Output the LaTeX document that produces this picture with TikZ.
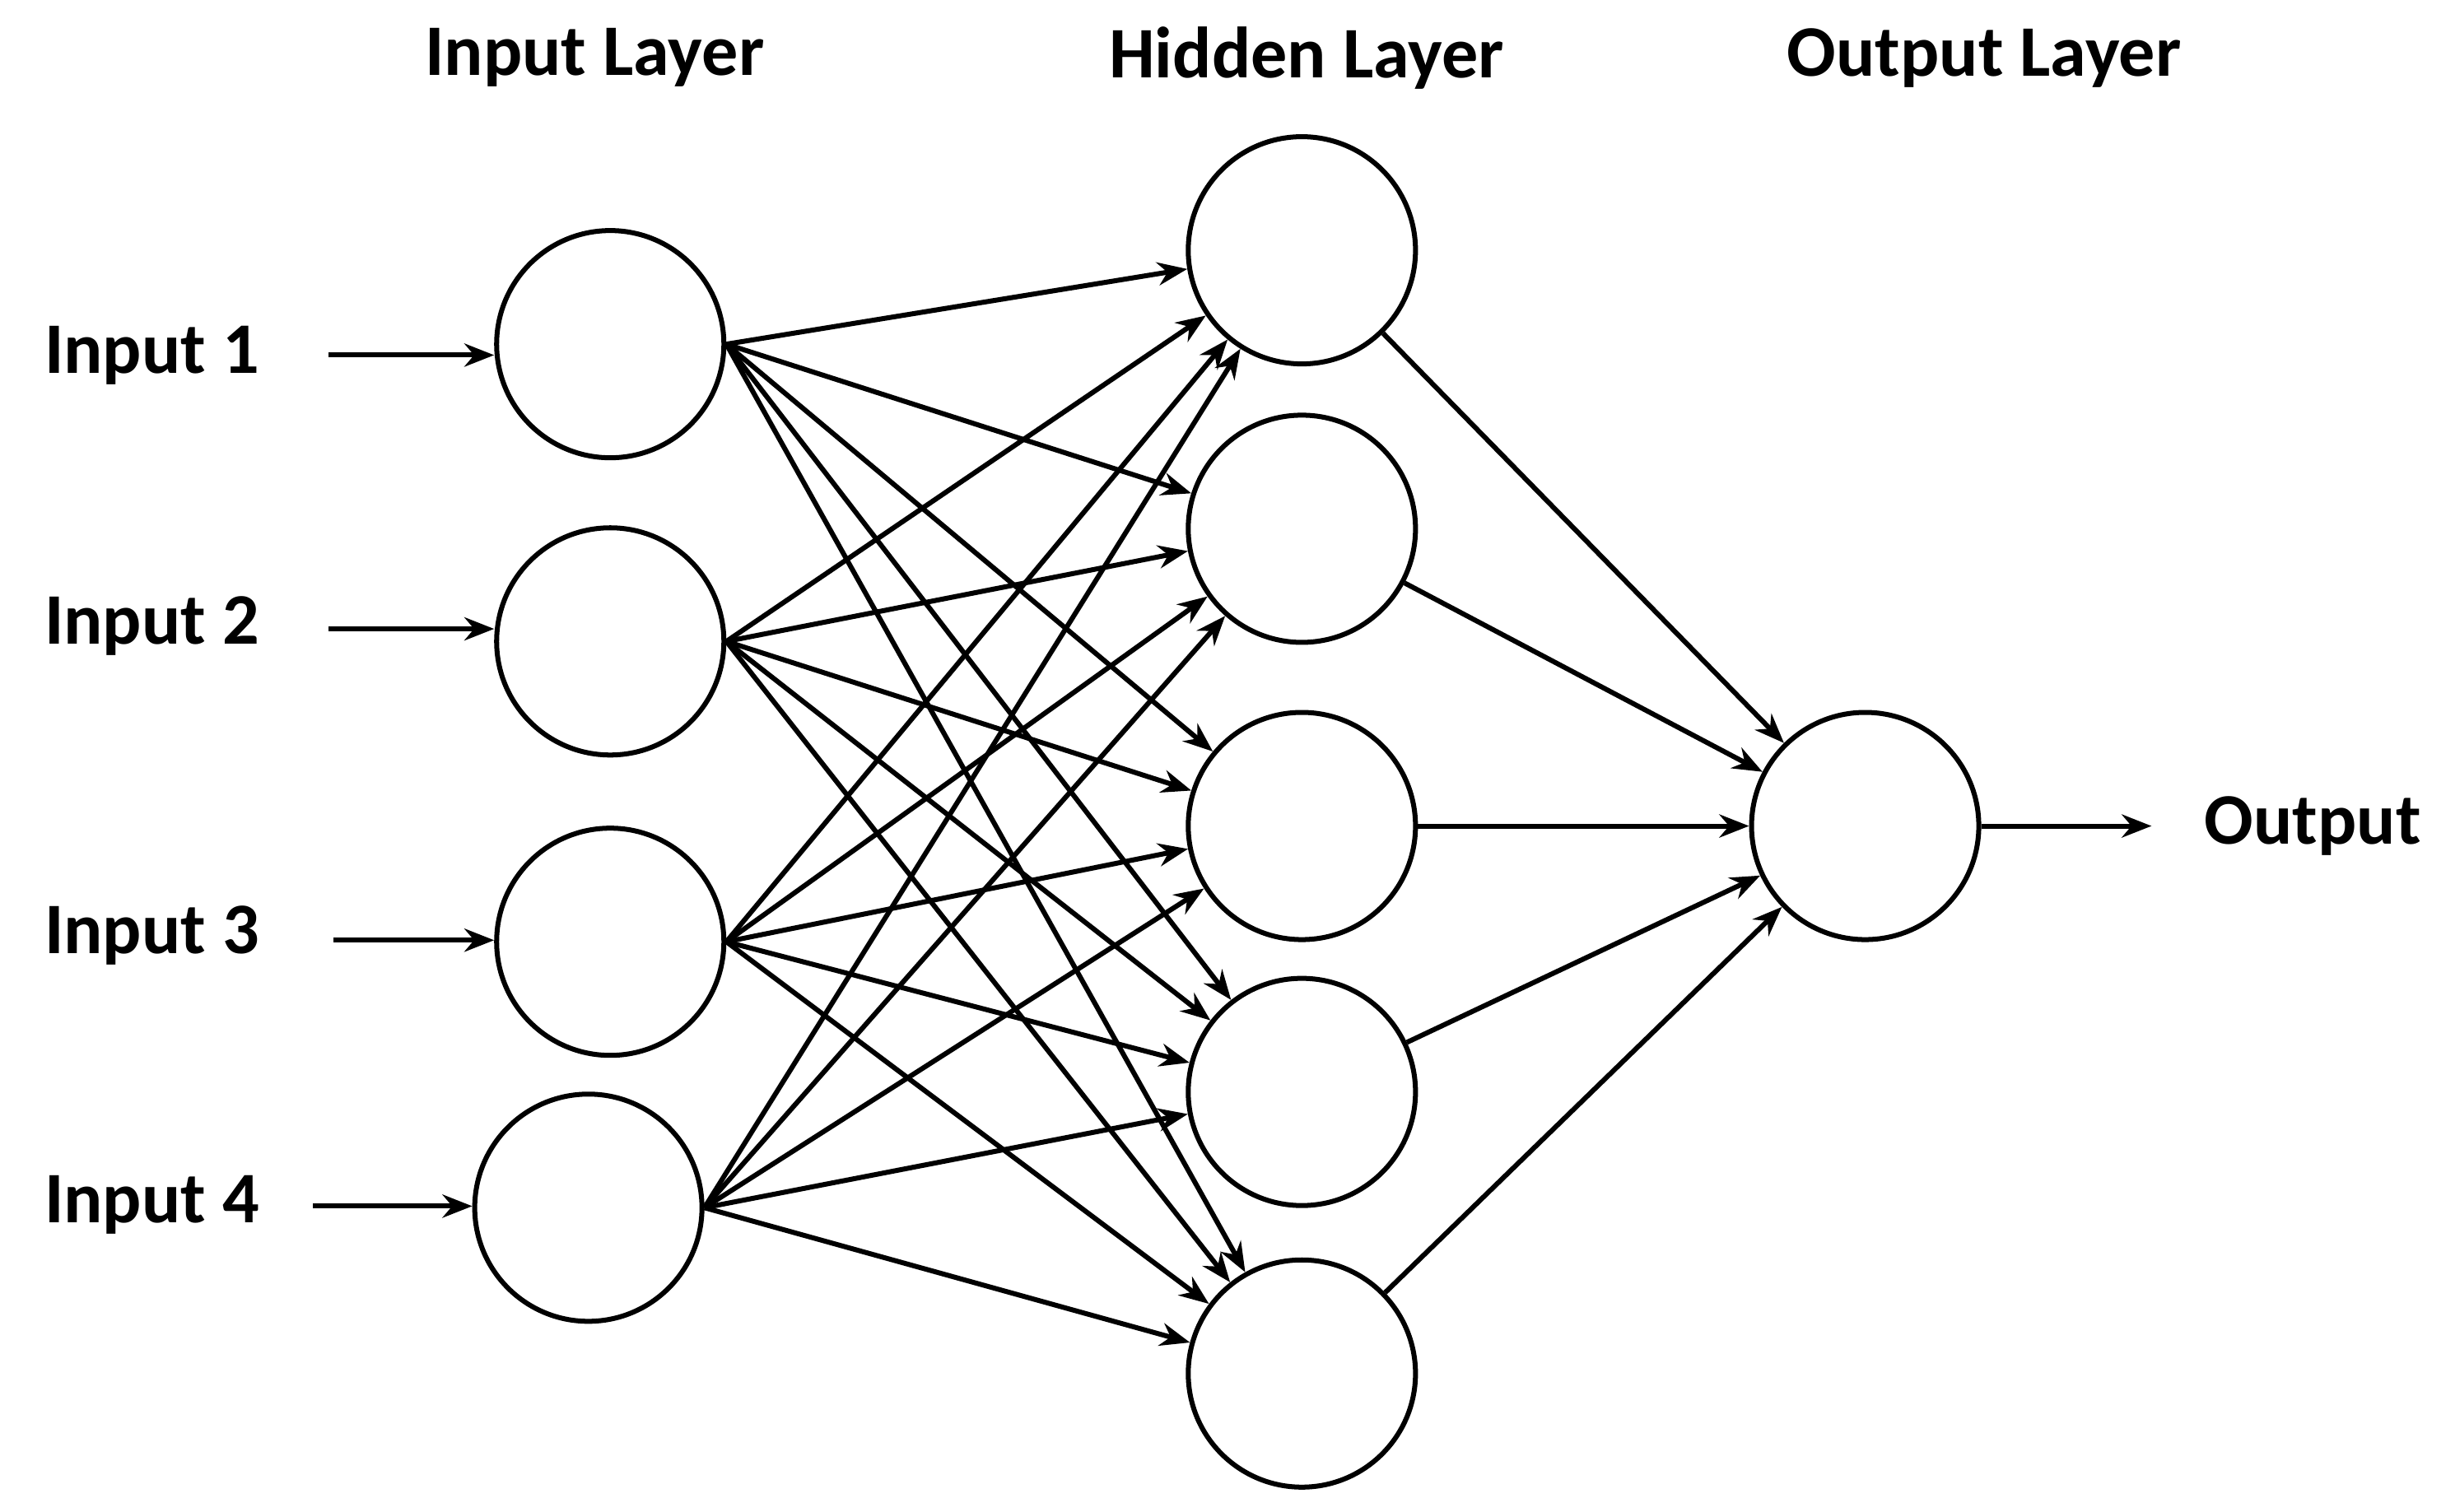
\documentclass[tikz,border=0pt]{standalone}
\usepackage{fontspec}
\setmainfont{Carlito}
\usetikzlibrary{arrows.meta}
\begin{document}
\begin{tikzpicture}[x=0.016667cm,y=-0.016667cm,
  neuron/.style={circle,draw,line width=1.5pt,minimum size=2.42cm,inner sep=0pt},
  lbl/.style={font=\fontsize{22}{26}\selectfont\bfseries,inner sep=0pt},
  conn/.style={line width=1.5pt,-{Stealth[length=9pt,width=7pt]}}]
\useasboundingbox (0,0) rectangle (1560,966);
\node[neuron] (i1) at (390,220) {};
\node[neuron] (i2) at (390,410) {};
\node[neuron] (i3) at (390,602) {};
\node[neuron] (i4) at (376,772) {};
\node[neuron] (h1) at (832,160) {};
\node[neuron] (h2) at (832,338) {};
\node[neuron] (h3) at (832,528) {};
\node[neuron] (h4) at (832,698) {};
\node[neuron] (h5) at (832,878) {};
\node[neuron] (o) at (1192,528) {};
\node[lbl] (t1) at (380,37) {Input Layer};
\node[lbl] (t2) at (835,37) {Hidden Layer};
\node[lbl] (t3) at (1268,37) {Output Layer};
\node[lbl] (l1) at (97,227) {Input 1};
\node[lbl] (l2) at (97,400) {Input 2};
\node[lbl] (l3) at (97,598) {Input 3};
\node[lbl] (l4) at (97,770) {Input 4};
\node[lbl] (lo) at (1478,528) {Output};
\coordinate (a1) at (210,227);
\coordinate (a2) at (210,402);
\coordinate (a3) at (213,601);
\coordinate (a4) at (200,771);
\coordinate (ao) at (1375,528);
\draw[conn] (a1) -- (a1 -| i1.west);
\draw[conn] (a2) -- (a2 -| i2.west);
\draw[conn] (a3) -- (a3 -| i3.west);
\draw[conn] (a4) -- (a4 -| i4.west);
\foreach \i in {i1,i2,i3,i4}
  \foreach \h in {h1,h2,h3,h4,h5}
    \draw[conn] (\i.east) -- (\h);
\foreach \h in {h1,h2,h3,h4,h5}
  \draw[conn] (\h) -- (o);
\draw[conn] (o.east) -- (ao);
\end{tikzpicture}
\end{document}
